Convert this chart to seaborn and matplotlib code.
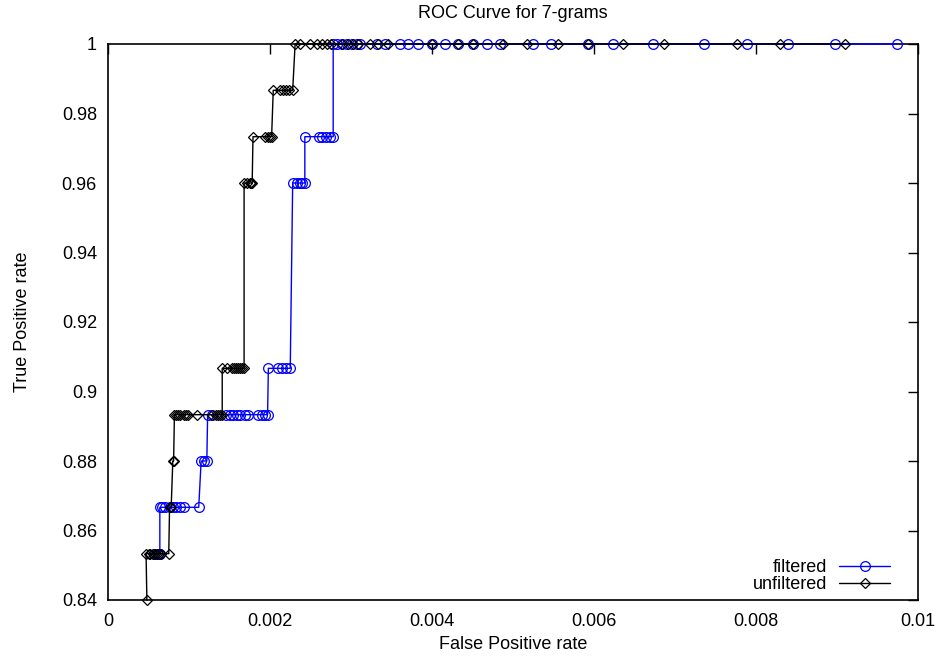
import numpy as np
import pandas as pd
import matplotlib
matplotlib.use("Agg")
import matplotlib.pyplot as plt
import seaborn as sns

# ---- data ----
filt_fpr = [0.00057, 0.00062, 0.00064,
            0.00064, 0.00067, 0.00070, 0.00077, 0.00080, 0.00084, 0.00089, 0.00094, 0.00112,
            0.00115, 0.00119, 0.00122,
            0.00123, 0.00128, 0.00146, 0.00151, 0.00154, 0.00159, 0.00163, 0.00169, 0.00173,
            0.00185, 0.00190, 0.00194, 0.00197,
            0.00198, 0.00210, 0.00215, 0.00220, 0.00225,
            0.00228, 0.00233, 0.00237, 0.00240, 0.00243,
            0.00243, 0.00260, 0.00264, 0.00269, 0.00274, 0.00278,
            0.00278, 0.00283, 0.00289, 0.00295, 0.00301, 0.00307, 0.00311, 0.00332, 0.00342,
            0.00360, 0.00370, 0.00383, 0.00400, 0.00416, 0.00432, 0.00451, 0.00468,
            0.00484, 0.00525, 0.00547, 0.00593, 0.00623, 0.00673, 0.00736, 0.00789,
            0.00840, 0.00898, 0.00974]
filt_tpr = [0.85333, 0.85333, 0.85333,
            0.86667, 0.86667, 0.86667, 0.86667, 0.86667, 0.86667, 0.86667, 0.86667, 0.86667,
            0.88, 0.88, 0.88,
            0.89333, 0.89333, 0.89333, 0.89333, 0.89333, 0.89333, 0.89333, 0.89333, 0.89333,
            0.89333, 0.89333, 0.89333, 0.89333,
            0.90667, 0.90667, 0.90667, 0.90667, 0.90667,
            0.96, 0.96, 0.96, 0.96, 0.96,
            0.97333, 0.97333, 0.97333, 0.97333, 0.97333, 0.97333,
            1.0, 1.0, 1.0, 1.0, 1.0, 1.0, 1.0, 1.0, 1.0,
            1.0, 1.0, 1.0, 1.0, 1.0, 1.0, 1.0, 1.0,
            1.0, 1.0, 1.0, 1.0, 1.0, 1.0, 1.0, 1.0,
            1.0, 1.0, 1.0]

unf_fpr = [0.00048,
           0.00047, 0.00050, 0.00052, 0.00055, 0.00058, 0.00060, 0.00063, 0.00065, 0.00075,
           0.00076, 0.00078,
           0.00080, 0.00081,
           0.00082, 0.00084, 0.00087, 0.00089, 0.00094, 0.00096, 0.00099, 0.00110,
           0.00128, 0.00133, 0.00136, 0.00138, 0.00141,
           0.00141, 0.00147, 0.00153, 0.00156, 0.00158, 0.00160, 0.00163, 0.00166, 0.00168,
           0.00168, 0.00172, 0.00175, 0.00177, 0.00178,
           0.00179, 0.00194, 0.00198, 0.00200, 0.00202,
           0.00204, 0.00212, 0.00216, 0.00220, 0.00224, 0.00228,
           0.00231, 0.00237, 0.00249, 0.00258, 0.00264, 0.00270, 0.00275, 0.00289,
           0.00296, 0.00302, 0.00309, 0.00323, 0.00333, 0.00346, 0.00400, 0.00432,
           0.00451, 0.00488, 0.00517, 0.00556, 0.00592, 0.00636, 0.00686, 0.00777,
           0.00830, 0.00910]
unf_tpr = [0.84,
           0.85333, 0.85333, 0.85333, 0.85333, 0.85333, 0.85333, 0.85333, 0.85333, 0.85333,
           0.86667, 0.86667,
           0.88, 0.88,
           0.89333, 0.89333, 0.89333, 0.89333, 0.89333, 0.89333, 0.89333, 0.89333,
           0.89333, 0.89333, 0.89333, 0.89333, 0.89333,
           0.90667, 0.90667, 0.90667, 0.90667, 0.90667, 0.90667, 0.90667, 0.90667, 0.90667,
           0.96, 0.96, 0.96, 0.96, 0.96,
           0.97333, 0.97333, 0.97333, 0.97333, 0.97333,
           0.98667, 0.98667, 0.98667, 0.98667, 0.98667, 0.98667,
           1.0, 1.0, 1.0, 1.0, 1.0, 1.0, 1.0, 1.0,
           1.0, 1.0, 1.0, 1.0, 1.0, 1.0, 1.0, 1.0,
           1.0, 1.0, 1.0, 1.0, 1.0, 1.0, 1.0, 1.0,
           1.0, 1.0]

x_ticks = [0, 0.002, 0.004, 0.006, 0.008, 0.01]
x_tick_labels = ["0", "0.002", "0.004", "0.006", "0.008", "0.01"]
y_ticks = [0.84, 0.86, 0.88, 0.90, 0.92, 0.94, 0.96, 0.98, 1.0]
y_tick_labels = ["0.84", "0.86", "0.88", "0.9", "0.92", "0.94", "0.96", "0.98", "1"]

df_f = pd.DataFrame({"fpr": filt_fpr, "tpr": filt_tpr})
df_u = pd.DataFrame({"fpr": unf_fpr, "tpr": unf_tpr})

sns.set_style("white")
plt.rcParams["font.family"] = ["Liberation Sans", "DejaVu Sans"]
plt.rcParams["text.color"] = "black"
plt.rcParams["axes.labelcolor"] = "black"
plt.rcParams["xtick.color"] = "black"
plt.rcParams["ytick.color"] = "black"
FS = 13

fig = plt.figure(figsize=(9.38, 6.59), dpi=100)
ax = fig.add_axes([108 / 938, 1 - 600 / 659, 810 / 938, 556 / 659])

sns.lineplot(data=df_f, x="fpr", y="tpr", sort=False, estimator=None, ax=ax,
             color="#0000ff", linewidth=1.0, marker="o", markersize=7,
             markerfacecolor="none", markeredgecolor="#0000ff", markeredgewidth=0.9,
             label="filtered", clip_on=False, zorder=3)
sns.lineplot(data=df_u, x="fpr", y="tpr", sort=False, estimator=None, ax=ax,
             color="black", linewidth=1.0, marker="D", markersize=5,
             markerfacecolor="none", markeredgecolor="black", markeredgewidth=0.9,
             label="unfiltered", clip_on=False, zorder=4)

ax.set_xlim(0, 0.01)
ax.set_ylim(0.84, 1.0)
ax.set_xticks(x_ticks)
ax.set_xticklabels(x_tick_labels)
ax.set_yticks(y_ticks)
ax.set_yticklabels(y_tick_labels)
ax.tick_params(direction="in", length=7, width=1, top=True, right=True,
               labelsize=FS, color="black", labelcolor="black")
ax.tick_params(axis="x", pad=9)
ax.tick_params(axis="y", pad=8)
for s in ax.spines.values():
    s.set_visible(True)
    s.set_color("black")
    s.set_linewidth(1.2)

ax.set_title("ROC Curve for 7-grams", fontsize=FS, pad=19, color="black")
ax.set_xlabel("False Positive rate", fontsize=FS, labelpad=5, color="black")
ax.set_ylabel("True Positive rate", fontsize=FS, labelpad=22, color="black")

leg = ax.legend(loc="lower right", bbox_to_anchor=(0.9654, 0.012), frameon=False,
                markerfirst=False, handlelength=2.8, fontsize=FS, borderaxespad=0,
                borderpad=0, labelspacing=0.0, handletextpad=0.7)
for t in leg.get_texts():
    t.set_color("black")

fig.savefig("out.png", dpi=100)
